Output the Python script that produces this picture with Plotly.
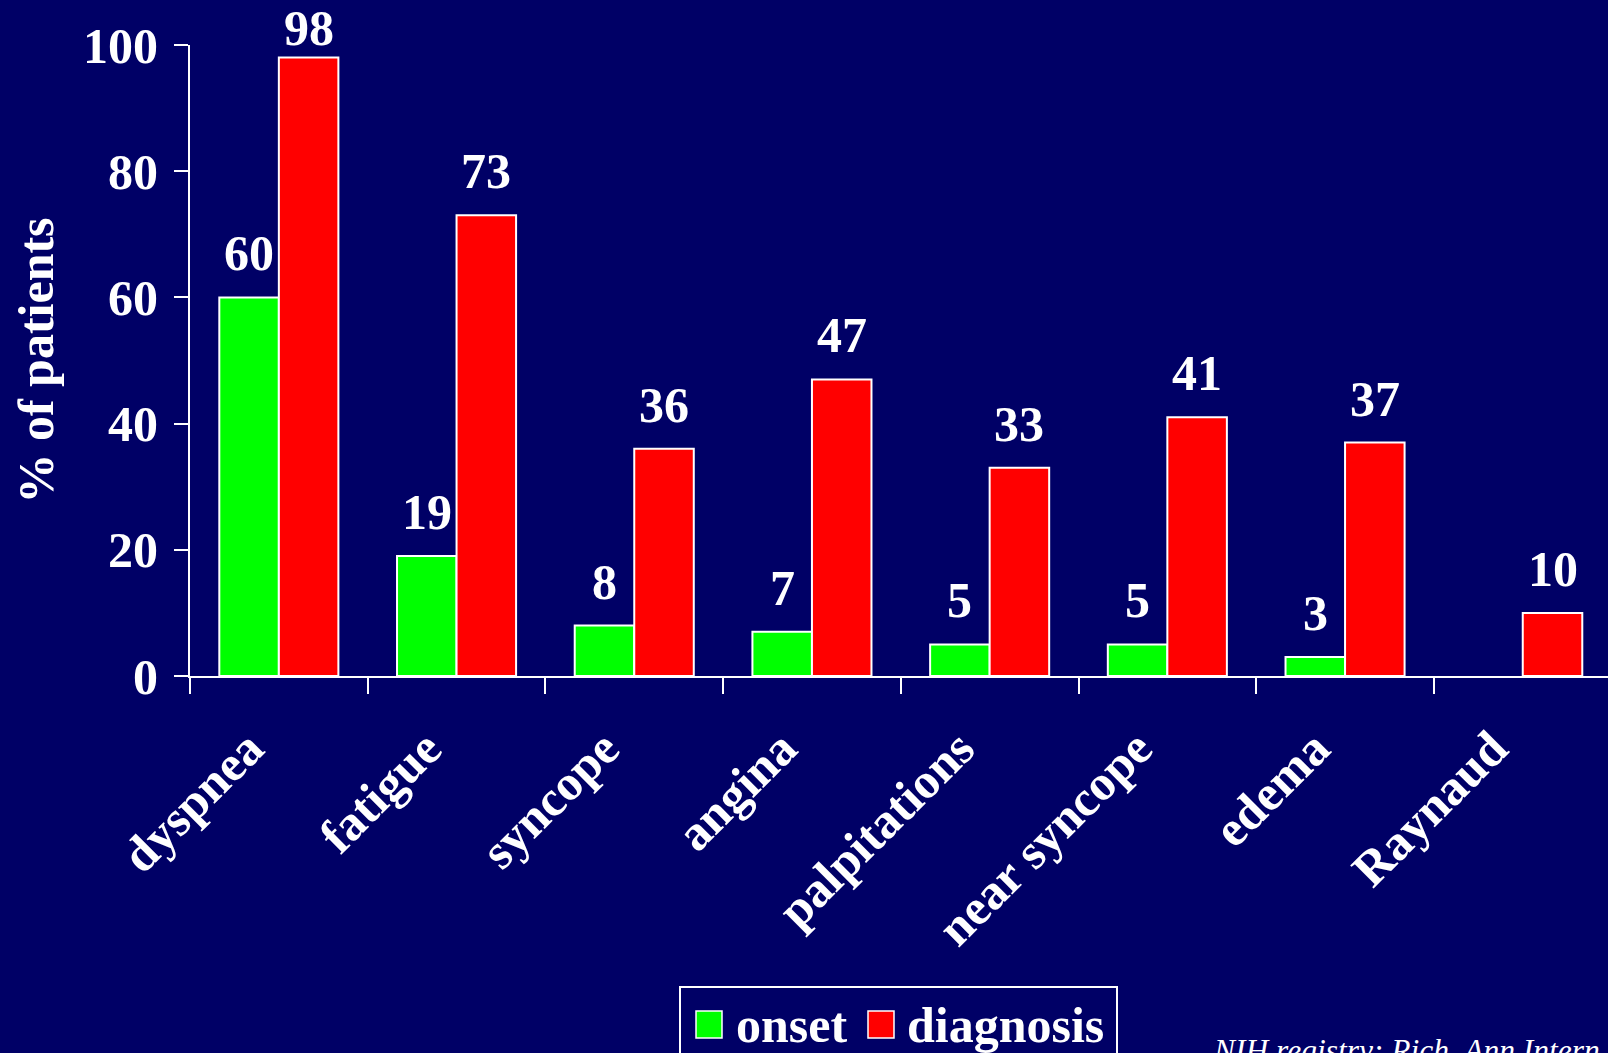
import plotly.graph_objects as go

# Symptoms reported in the NIH registry, % of patients
symptoms = ["dyspnea", "fatigue", "syncope", "angina", "palpitations",
            "near syncope", "edema", "Raynaud"]
onset = [60, 19, 8, 7, 5, 5, 3, None]
diagnosis = [98, 73, 36, 47, 33, 41, 37, 10]
y_ticks = [0, 20, 40, 60, 80, 100]

NAVY = "#000066"
GREEN = "#00FF00"
RED = "#FF0000"
FONT = "Liberation Serif"
SIZE = 50

W, H = 1608, 1053
L, R, T, B = 190, 0, 45, 377
BARGAP = 0.33
half = (1 - BARGAP) / 2  # width of one bar in category units
PX_PER_UNIT = (H - T - B) / 100


def px_x(px):
    return (px - L) / (W - L - R)


def px_y(py):
    return (H - B - py) / (H - T - B)


fig = go.Figure()
fig.add_trace(go.Bar(x=symptoms, y=onset, name="onset",
                     marker=dict(color=GREEN, line=dict(color="white", width=2))))
fig.add_trace(go.Bar(x=symptoms, y=diagnosis, name="diagnosis",
                     marker=dict(color=RED, line=dict(color="white", width=2))))

annotations = []
label_font = dict(family=FONT, size=SIZE, color="white")
for i, (a, b) in enumerate(zip(onset, diagnosis)):
    for val, dx in ((a, -half / 2), (b, half / 2)):
        if val is None:
            continue
        # value labels sit above the bar, squeezed under the top edge when needed
        bar_top = T + (100 - val) * PX_PER_UNIT
        annotations.append(dict(
            x=i + dx, y=val, xref="x", yref="y", yshift=min(44, bar_top - 28),
            text=f"<b>{val}</b>", showarrow=False, yanchor="middle",
            font=label_font))

# legend box drawn by hand so the swatches can match the text size
shapes = [
    dict(type="rect", xref="paper", yref="paper",
         x0=px_x(680), x1=px_x(1117), y0=px_y(987), y1=px_y(1075),
         line=dict(color="white", width=2), fillcolor=NAVY, layer="above"),
    dict(type="rect", xref="paper", yref="paper",
         x0=px_x(696), x1=px_x(722), y0=px_y(1011), y1=px_y(1038),
         line=dict(color="white", width=1.5), fillcolor=GREEN, layer="above"),
    dict(type="rect", xref="paper", yref="paper",
         x0=px_x(868), x1=px_x(894), y0=px_y(1011), y1=px_y(1038),
         line=dict(color="white", width=1.5), fillcolor=RED, layer="above"),
]
annotations += [
    dict(x=px_x(734), y=px_y(1025), xref="paper", yref="paper",
         text="<b>onset</b>", showarrow=False, xanchor="left", yanchor="middle",
         font=label_font),
    dict(x=px_x(905), y=px_y(1025), xref="paper", yref="paper",
         text="<b>diagnosis</b>", showarrow=False, xanchor="left", yanchor="middle",
         font=label_font),
    dict(x=px_x(1211), y=px_y(1050), xref="paper", yref="paper",
         text="<i>NIH registry: Rich, Ann Intern</i>", showarrow=False,
         xanchor="left", yanchor="middle",
         font=dict(family=FONT, size=31.5, color="white")),
]

fig.update_layout(
    width=W, height=H,
    margin=dict(l=L, r=R, t=T, b=B),
    paper_bgcolor=NAVY, plot_bgcolor=NAVY,
    barmode="group", bargap=BARGAP, bargroupgap=0,
    showlegend=False,
    font=dict(family=FONT, color="white"),
    annotations=annotations, shapes=shapes,
)
fig.update_xaxes(
    type="category", range=[-0.5, -0.5 + (W - L - R) / 177.7],
    tickson="boundaries", ticks="outside", ticklen=16, tickwidth=2,
    tickcolor="white", showline=True, linecolor="white", linewidth=2,
    showgrid=False, tickangle=-45, ticklabelshift=-30, ticklabelstandoff=21,
    tickfont=dict(family=FONT, size=SIZE, color="white", weight="bold"),
)
fig.update_yaxes(
    range=[0, 100], tickvals=y_ticks, ticks="outside", ticklen=14, tickwidth=2,
    tickcolor="white", showline=True, linecolor="white", linewidth=2,
    showgrid=False, zeroline=False, ticklabelstandoff=6,
    tickfont=dict(family=FONT, size=SIZE, color="white", weight="bold"),
    title=dict(text="<b>% of patients</b>", font=dict(family=FONT, size=SIZE, color="white"),
               standoff=14),
)

fig.write_html("out.html")
